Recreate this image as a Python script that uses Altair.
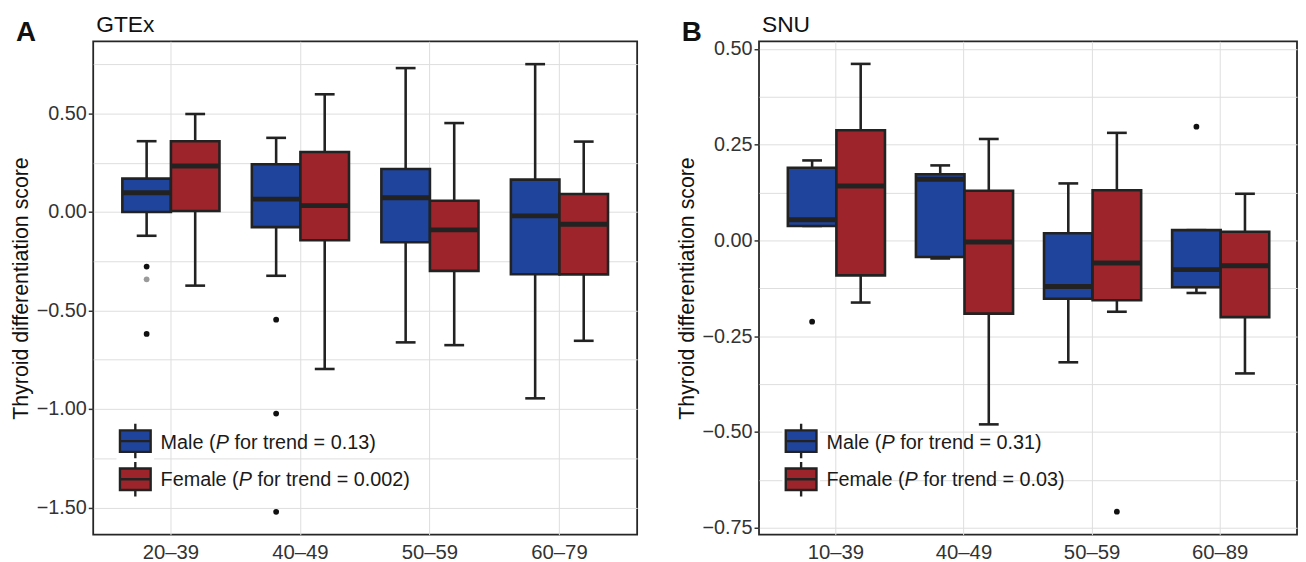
import altair as alt
import pandas as pd

# ---------------- data ----------------
sexes = ["Male", "Female"]

# Panel A: GTEx
gtex_ages = ["20–39", "40–49", "50–59", "60–79"]
gtex_male_upper = [0.359, 0.376, 0.730, 0.750]
gtex_male_q3 = [0.169, 0.242, 0.218, 0.164]
gtex_male_median = [0.097, 0.065, 0.072, -0.020]
gtex_male_q1 = [0.000, -0.077, -0.154, -0.316]
gtex_male_lower = [-0.121, -0.324, -0.662, -0.946]
gtex_female_upper = [0.497, 0.597, 0.451, 0.357]
gtex_female_q3 = [0.359, 0.304, 0.057, 0.091]
gtex_female_median = [0.233, 0.032, -0.091, -0.062]
gtex_female_q1 = [0.005, -0.144, -0.299, -0.317]
gtex_female_lower = [-0.374, -0.797, -0.676, -0.654]
gtex_out_age = ["20–39", "20–39", "40–49", "40–49", "40–49"]
gtex_out_sex = ["Male", "Male", "Male", "Male", "Male"]
gtex_out_value = [-0.277, -0.619, -0.547, -1.023, -1.522]
gtex_faint_age = ["20–39"]
gtex_faint_sex = ["Male"]
gtex_faint_value = [-0.342]
gtex_y_domain = [-1.638, 0.866]
gtex_y_ticks = [-1.5, -1.25, -1.0, -0.75, -0.5, -0.25, 0.0, 0.25, 0.5, 0.75]
gtex_p = ["0.13", "0.002"]

# Panel B: SNU
snu_ages = ["10–39", "40–49", "50–59", "60–89"]
snu_male_upper = [0.209, 0.196, 0.149, 0.027]
snu_male_q3 = [0.190, 0.173, 0.019, 0.027]
snu_male_median = [0.054, 0.160, -0.120, -0.076]
snu_male_q1 = [0.038, -0.043, -0.152, -0.122]
snu_male_lower = [0.038, -0.047, -0.318, -0.137]
snu_female_upper = [0.461, 0.265, 0.281, 0.122]
snu_female_q3 = [0.288, 0.130, 0.131, 0.023]
snu_female_median = [0.142, -0.004, -0.059, -0.066]
snu_female_q1 = [-0.091, -0.191, -0.156, -0.200]
snu_female_lower = [-0.162, -0.480, -0.186, -0.347]
snu_out_age = ["10–39", "50–59", "60–89"]
snu_out_sex = ["Male", "Female", "Male"]
snu_out_value = [-0.212, -0.708, 0.297]
snu_faint_age = []
snu_faint_sex = []
snu_faint_value = []
snu_y_domain = [-0.768, 0.520]
snu_y_ticks = [-0.75, -0.625, -0.5, -0.375, -0.25, -0.125, 0.0, 0.125, 0.25, 0.375, 0.5]
snu_p = ["0.31", "0.03"]

# ---------------- style ----------------
FONT = "Liberation Sans"
BLUE = "#1F449C"
RED = "#9E242B"
INK = "#222222"
GRID = "#DEDEDE"
HEIGHT = 498
LW = 2.6


def box_frame(ages, male, female):
    rows = []
    for sex, st in (("Male", male), ("Female", female)):
        lower, q1, med, q3, upper = st
        for i, a in enumerate(ages):
            rows.append(dict(age=a, sex=sex, lower=lower[i], q1=q1[i],
                             median=med[i], q3=q3[i], upper=upper[i]))
    return pd.DataFrame(rows)


def panel(letter, name, ages, boxes, out_df, faint_df, ydom, yticks, major,
          pvals, width):
    band = width / 4.2 * 0.375
    x = alt.X("age:N", sort=ages, title=None,
              scale=alt.Scale(domain=ages, paddingInner=0.25, paddingOuter=0.225),
              axis=alt.Axis(labelFontSize=20.5, labelColor="#333333", ticks=False,
                            labelPadding=8, domain=False, grid=True,
                            gridColor=GRID, gridWidth=1, labelAngle=0,
                            labelFont=FONT))
    xo = alt.XOffset("sex:N", sort=sexes, scale=alt.Scale(domain=sexes))
    test = f"abs(datum.value/{major} - round(datum.value/{major})) < 0.001"
    yaxis = alt.Axis(values=yticks, title="Thyroid differentiation score",
                     titleFontSize=21.5, titleFontWeight="normal", titleColor="#111111",
                     titleFont=FONT, titlePadding=4,
                     labelExpr=f"{test} ? format(datum.value, '.2f') : ''",
                     labelFontSize=20, labelColor="#333333", labelPadding=2,
                     labelFont=FONT,
                     tickSize=5, tickWidth=1.5,
                     tickColor={"condition": {"test": test, "value": "#333333"},
                                "value": "transparent"},
                     grid=True, gridColor=GRID, gridWidth=1, domain=False)
    yscale = alt.Scale(domain=ydom, nice=False, zero=False)

    def Y(field):
        return alt.Y(f"{field}:Q", scale=yscale, axis=yaxis)

    base = alt.Chart(boxes)
    w_lo = base.mark_rule(color=INK, strokeWidth=LW).encode(x=x, xOffset=xo, y=Y("lower"), y2="q1")
    w_hi = base.mark_rule(color=INK, strokeWidth=LW).encode(x=x, xOffset=xo, y=Y("q3"), y2="upper")
    c_lo = base.mark_tick(orient="horizontal", size=20, thickness=LW, color=INK, opacity=1).encode(
        x=x, xOffset=xo, y=Y("lower"))
    c_hi = base.mark_tick(orient="horizontal", size=20, thickness=LW, color=INK, opacity=1).encode(
        x=x, xOffset=xo, y=Y("upper"))
    box = base.mark_bar(stroke=INK, strokeWidth=LW, opacity=1).encode(
        x=x, xOffset=xo, y=Y("q1"), y2="q3",
        fill=alt.Fill("sex:N", scale=alt.Scale(domain=sexes, range=[BLUE, RED]), legend=None))
    med = base.mark_tick(orient="horizontal", size=band, thickness=5, color=INK, opacity=1).encode(
        x=x, xOffset=xo, y=Y("median"))
    outs = alt.Chart(out_df).mark_circle(size=34, color="#111111", opacity=1).encode(
        x=x, xOffset=xo, y=Y("value"))
    layers = [w_lo, w_hi, c_lo, c_hi, box, med, outs]
    if len(faint_df):
        layers.append(alt.Chart(faint_df).mark_circle(size=34, color="#9A9A9A", opacity=1).encode(
            x=x, xOffset=xo, y=Y("value")))

    one = pd.DataFrame({"k": [0]})
    key_path = "M-1,-0.7H1V0.7H-1Z M-1,0H1 M0,-0.7V-1.12 M0,0.7V1.12"
    for i, (sex, col) in enumerate((("Male", BLUE), ("Female", RED))):
        ky = 403.5 + i * 38.5
        ty = 411 + i * 38
        layers.append(alt.Chart(one).mark_point(shape="square", size=38 * 38, filled=True,
                                                fill="white", strokeWidth=0, opacity=1).encode(
            x=alt.value(42.5), y=alt.value(ky)))
        layers.append(alt.Chart(one).mark_point(shape=key_path, size=961, filled=True, fill=col,
                                                stroke=INK, strokeWidth=2.4, opacity=1).encode(
            x=alt.value(42.5), y=alt.value(ky)))
        head = f"{sex} ("
        head_w = 55.6 if sex == "Male" else 78.9
        txt = dict(align="left", baseline="alphabetic", fontSize=20, font=FONT, color="#1A1A1A")
        layers.append(alt.Chart(one).mark_text(**txt).encode(
            x=alt.value(68), y=alt.value(ty), text=alt.value(head)))
        layers.append(alt.Chart(one).mark_text(fontStyle="italic", **txt).encode(
            x=alt.value(68 + head_w), y=alt.value(ty), text=alt.value("P")))
        layers.append(alt.Chart(one).mark_text(**txt).encode(
            x=alt.value(68 + head_w + 13.3 + 5.6), y=alt.value(ty),
            text=alt.value(f"for trend = {pvals[i]})")))

    layers.append(alt.Chart(one).mark_text(align="left", baseline="alphabetic", fontSize=28,
                                           fontWeight="bold", font=FONT, color="#111111").encode(
        x=alt.value(-78), y=alt.value(0), text=alt.value(letter)))
    layers.append(alt.Chart(one).mark_text(align="left", baseline="alphabetic", fontSize=23,
                                           font=FONT, color="#111111").encode(
        x=alt.value(3), y=alt.value(-9), text=alt.value(name)))

    return alt.layer(*layers).properties(width=width, height=HEIGHT)


gtex_boxes = box_frame(gtex_ages,
                       (gtex_male_lower, gtex_male_q1, gtex_male_median, gtex_male_q3, gtex_male_upper),
                       (gtex_female_lower, gtex_female_q1, gtex_female_median, gtex_female_q3, gtex_female_upper))
snu_boxes = box_frame(snu_ages,
                      (snu_male_lower, snu_male_q1, snu_male_median, snu_male_q3, snu_male_upper),
                      (snu_female_lower, snu_female_q1, snu_female_median, snu_female_q3, snu_female_upper))

gtex_out = pd.DataFrame({"age": gtex_out_age, "sex": gtex_out_sex, "value": gtex_out_value})
gtex_faint = pd.DataFrame({"age": gtex_faint_age, "sex": gtex_faint_sex, "value": gtex_faint_value})
snu_out = pd.DataFrame({"age": snu_out_age, "sex": snu_out_sex, "value": snu_out_value})
snu_faint = pd.DataFrame({"age": snu_faint_age, "sex": snu_faint_sex, "value": snu_faint_value})

pa = panel("A", "GTEx", gtex_ages, gtex_boxes, gtex_out, gtex_faint, gtex_y_domain,
           gtex_y_ticks, 0.5, gtex_p, 549)
pb = panel("B", "SNU", snu_ages, snu_boxes, snu_out, snu_faint, snu_y_domain,
           snu_y_ticks, 0.25, snu_p, 543)

chart = (alt.hconcat(pa, pb, spacing=37)
         .resolve_scale(x="independent", y="independent")
         .properties(padding={"left": 1, "top": 3, "right": 0, "bottom": 0},
                     background="white")
         .configure(font=FONT)
         .configure_view(stroke="#262626", strokeWidth=1.8))

chart.save("out.html", embed_options={"renderer": "svg", "actions": False})
